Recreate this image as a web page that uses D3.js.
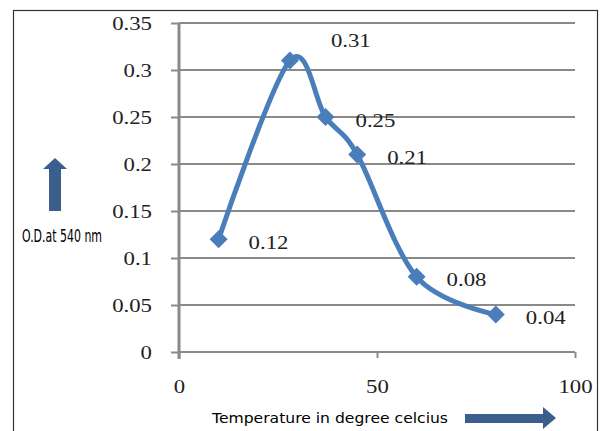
<!DOCTYPE html>
<html>
<head>
<meta charset="utf-8">
<script src="https://cdn.jsdelivr.net/npm/d3@7"></script>
<style>
  html, body { margin: 0; padding: 0; background: #fff; }
  svg { display: block; }
</style>
</head>
<body>
<svg id="chart" width="604" height="431"></svg>
<script>
// Absorbance of the reaction mixture at different temperatures
const temperatures = [10, 28, 37, 45, 60, 80];
const absorbance = [0.12, 0.31, 0.25, 0.21, 0.08, 0.04];
const yTicks = [0, 0.05, 0.1, 0.15, 0.2, 0.25, 0.3, 0.35];
const xTicks = [0, 50, 100];

const svg = d3.select("#chart");
const plot = { left: 179, right: 575, top: 23, bottom: 352 };

const x = d3.scaleLinear().domain([0, 100]).range([plot.left, plot.right]);
const y = d3.scaleLinear().domain([0, 0.35]).range([plot.bottom, plot.top]);

const gridColor = "#8a8a8a";
const serif = "'Liberation Serif', 'Times New Roman', serif";
const narrow = "'Liberation Sans Narrow', 'Arial Narrow', 'DejaVu Sans Condensed', sans-serif";
const arrowColor = "#3b5f8c";
const lineColor = "#4a7ebb";
const stretch = 1.2;   // numeric labels are set slightly wide
const numSize = "19px";

// outer frame
svg.append("rect")
  .attr("x", 13.5).attr("y", 10.5)
  .attr("width", 584).attr("height", 440)
  .attr("fill", "none").attr("stroke", "#333").attr("stroke-width", 1.2);

// horizontal gridlines
svg.append("g").selectAll("line")
  .data(yTicks.filter(d => d > 0))
  .join("line")
  .attr("x1", plot.left).attr("x2", plot.right)
  .attr("y1", d => y(d)).attr("y2", d => y(d))
  .attr("stroke", gridColor).attr("stroke-width", 2);

// y axis
const yAxis = svg.append("g")
  .attr("transform", `translate(${plot.left},0)`)
  .call(d3.axisLeft(y).tickValues(yTicks).tickSize(8).tickPadding(19)
    .tickFormat(d => String(+d.toFixed(2))));
yAxis.select(".domain").remove();
yAxis.selectAll(".tick line").attr("stroke", gridColor).attr("stroke-width", 2);
yAxis.selectAll(".tick text")
  .attr("x", -27 / stretch)
  .attr("transform", `scale(${stretch},1)`)
  .style("font-family", serif).style("font-size", numSize).attr("fill", "#222");
svg.append("line")
  .attr("x1", plot.left).attr("x2", plot.left)
  .attr("y1", plot.top).attr("y2", plot.bottom + 7)
  .attr("stroke", gridColor).attr("stroke-width", 3);

// x axis
const xAxis = svg.append("g")
  .attr("transform", `translate(0,${plot.bottom})`)
  .call(d3.axisBottom(x).tickValues(xTicks).tickSize(6).tickPadding(22));
xAxis.select(".domain").attr("stroke", gridColor).attr("stroke-width", 2)
  .attr("d", `M${plot.left},0H${plot.right}`);
xAxis.selectAll(".tick line").attr("stroke", gridColor).attr("stroke-width", 2);
xAxis.selectAll(".tick text")
  .attr("transform", `scale(${stretch},1)`)
  .style("font-family", serif).style("font-size", numSize).attr("fill", "#222");

// smoothed data line
const pts = temperatures.map((t, i) => [x(t), y(absorbance[i])]);
svg.append("path")
  .attr("d", d3.line().curve(d3.curveCardinal.tension(0))(pts))
  .attr("fill", "none").attr("stroke", lineColor)
  .attr("stroke-width", 5).attr("stroke-linejoin", "round");

// diamond markers
const r = 9;
svg.append("g").selectAll("path")
  .data(pts)
  .join("path")
  .attr("d", ([px, py]) => `M${px},${py - r}L${px + r},${py}L${px},${py + r}L${px - r},${py}Z`)
  .attr("fill", lineColor);

// value labels, to the right of each marker (the peak label sits above)
const labelShift = (i) => i === 1 ? [41, -20] : [30, 3];
svg.append("g").selectAll("text")
  .data(absorbance)
  .join("text")
  .attr("transform", (d, i) =>
    `translate(${pts[i][0] + labelShift(i)[0]},${pts[i][1] + labelShift(i)[1]}) scale(${stretch},1)`)
  .attr("dy", "0.35em")
  .style("font-family", serif).style("font-size", numSize).attr("fill", "#222")
  .text(d => d.toFixed(2));

// y axis title with upward arrow
svg.append("path")
  .attr("d", "M55,158L67,169L61,169L61,211L49,211L49,169L43,169Z")
  .attr("fill", arrowColor);
svg.append("text")
  .attr("x", 22).attr("y", 242)
  .style("font-family", narrow).style("font-size", "17px")
  .attr("textLength", 80).attr("lengthAdjust", "spacingAndGlyphs")
  .attr("fill", "#000")
  .text("O.D.at 540 nm");

// x axis title with rightward arrow
svg.append("text")
  .attr("x", 212).attr("y", 423)
  .style("font-family", "'DejaVu Sans', sans-serif").style("font-size", "14px")
  .attr("textLength", 236).attr("lengthAdjust", "spacingAndGlyphs")
  .attr("fill", "#000")
  .text("Temperature in degree celcius");
svg.append("path")
  .attr("d", "M465,414L543,414L543,407L556,418L543,429L543,423L465,423Z")
  .attr("fill", arrowColor);
</script>
</body>
</html>
